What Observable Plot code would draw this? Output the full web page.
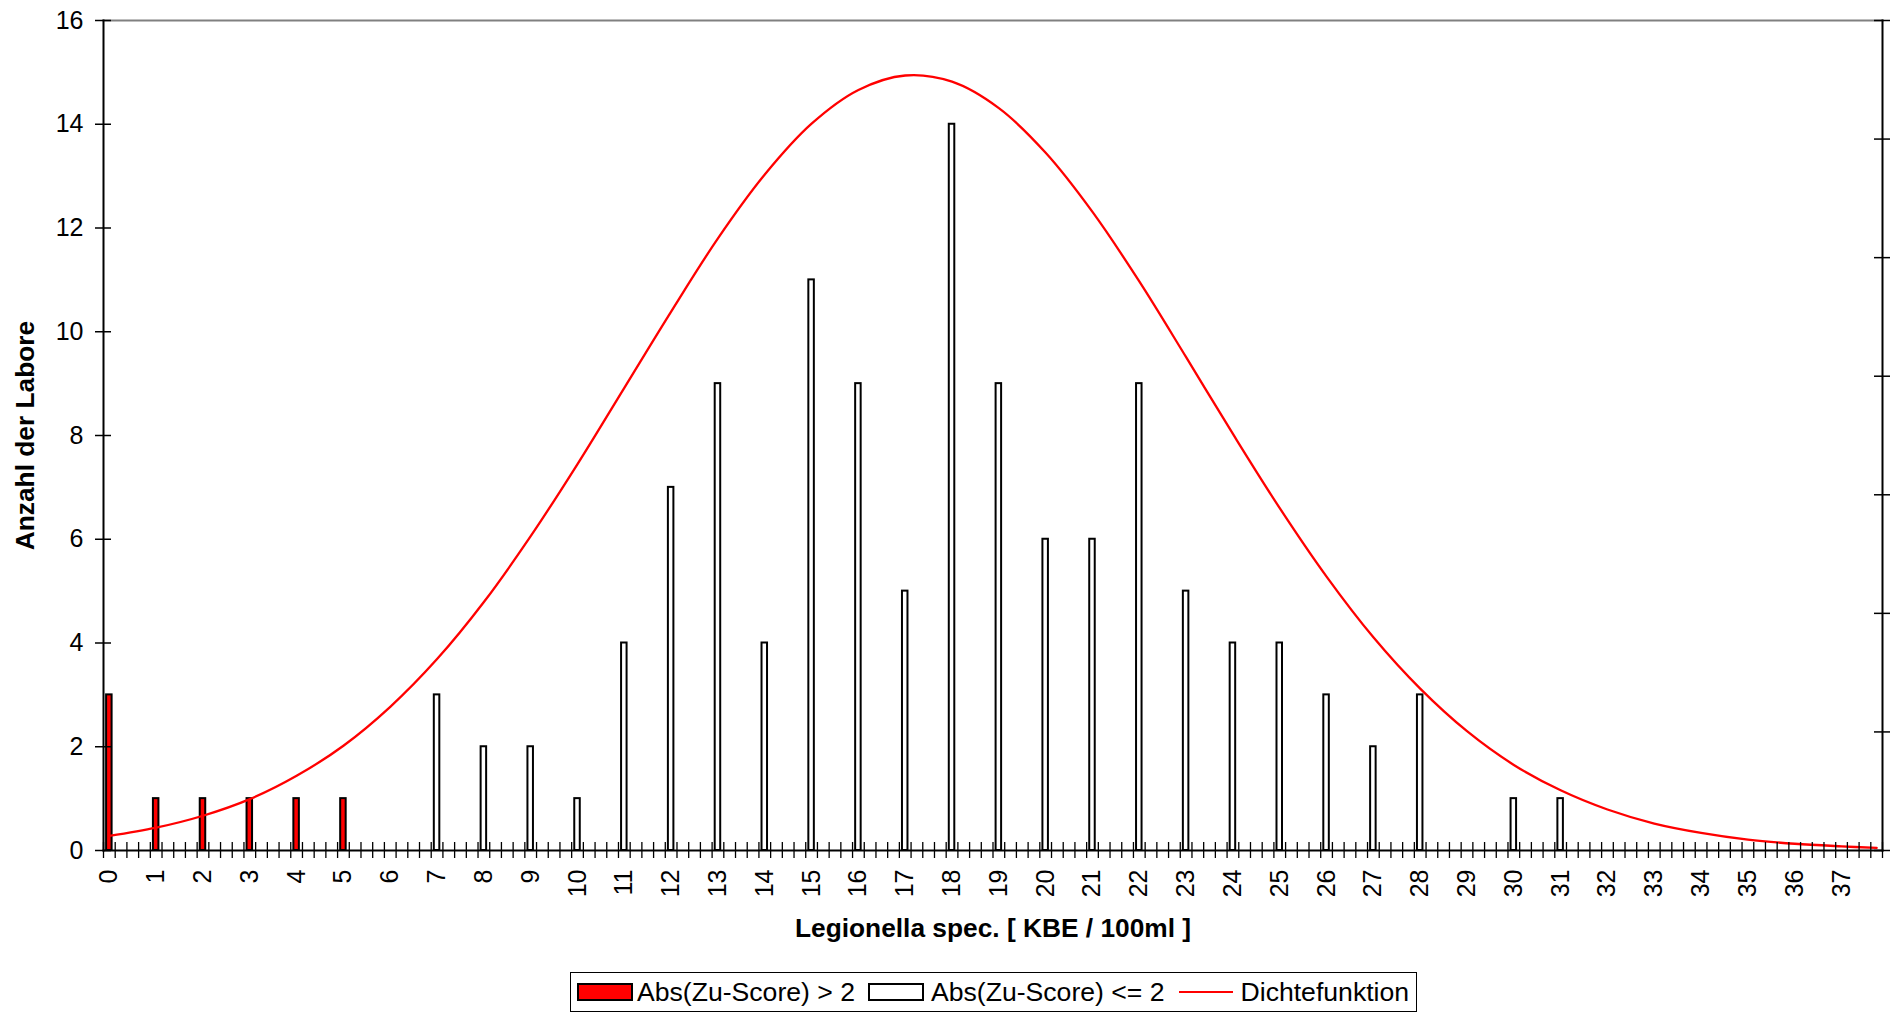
<!DOCTYPE html>
<html>
<head>
<meta charset="utf-8">
<script src="https://cdn.jsdelivr.net/npm/d3@7"></script>
<script src="https://cdn.jsdelivr.net/npm/@observablehq/plot@0.6"></script>
<style>
  html, body { margin: 0; padding: 0; background: #fff; }
  #wrap { position: relative; width: 1894px; height: 1013px; font-family: "Liberation Sans", Arial, sans-serif; }
  #legend {
    position: absolute; left: 570px; top: 972px; width: 845px; height: 38px;
    border: 1px solid #000; box-sizing: content-box;
    display: flex; align-items: center; font-size: 26.6px; color: #000; white-space: nowrap;
  }
  .sw { display: inline-block; width: 52px; height: 14px; border: 2px solid #000; }
  .ln { display: inline-block; width: 54px; height: 0; border-top: 2px solid #ff0000; }
</style>
</head>
<body>
<div id="wrap">
  <div id="chart"></div>
  <div id="legend"></div>
</div>
<script>
// ---- data ----
const redX = [0, 1, 2, 3, 4, 5];
const redN = [3, 1, 1, 1, 1, 1];
const whiteX = [7, 8, 9, 10, 11, 12, 13, 14, 15, 16, 17, 18, 19, 20, 21, 22, 23, 24, 25, 26, 27, 28, 30, 31];
const whiteN = [3, 2, 2, 1, 4, 7, 9, 4, 11, 9, 5, 14, 9, 6, 6, 9, 5, 4, 4, 3, 2, 3, 1, 1];
const curveX = [0, 1, 2, 3, 4, 5, 6, 7, 8, 9, 10, 11, 12, 13, 14, 15, 16, 17, 18, 19,
                20, 21, 22, 23, 24, 25, 26, 27, 28, 29, 30, 31, 32, 33, 34, 35, 36, 37, 37.75];
const curveY = [0.28, 0.44, 0.67, 0.99, 1.44, 2.02, 2.77, 3.69, 4.79, 6.06, 7.45, 8.92, 10.39, 11.8, 13.03, 14.01, 14.66, 14.94, 14.82, 14.31,
                13.45, 12.31, 10.97, 9.51, 8.03, 6.6, 5.28, 4.11, 3.12, 2.3, 1.65, 1.16, 0.79, 0.52, 0.34, 0.21, 0.13, 0.08, 0.05];
const categories = d3.range(0, 38, 0.25);           // category axis, 4 categories per unit
const xTickLabels = d3.range(0, 38);                 // 0 … 37
const yTicks = [0, 2, 4, 6, 8, 10, 12, 14, 16];
const secondaryTicks = [0, 0.02, 0.04, 0.06, 0.08, 0.1, 0.12, 0.14];
const secondaryMax = 0.14;
const yMax = 16;
const xTitle = "Legionella spec. [ KBE / 100ml ]";
const yTitle = "Anzahl der Labore";
const legendLabels = ["Abs(Zu-Score) > 2", "Abs(Zu-Score) <= 2", "Dichtefunktion"];

const redData = redX.map((x, i) => ({x, n: redN[i]}));
const whiteData = whiteX.map((x, i) => ({x, n: whiteN[i]}));
const curveData = curveX.map((x, i) => ({x, y: curveY[i]}));

// ---- layout ----
const W = 1894, H = 972, mL = 103, mR = 12, mT = 20, mB = 122;
const plotW = W - mL - mR, plotH = H - mT - mB;
const step = plotW / categories.length;

const chart = Plot.plot({
  width: W, height: H,
  marginLeft: mL, marginRight: mR, marginTop: mT, marginBottom: mB,
  x: {type: "band", domain: categories, padding: 0},
  y: {domain: [0, yMax]},
  style: {fontFamily: "'Liberation Sans', Arial, sans-serif", fontSize: "25px", background: "#fff", color: "#000", overflow: "visible"},
  marks: [
    Plot.barY(redData, {x: "x", y: "n", fill: "#ff0000", stroke: "#000", strokeWidth: 2, insetLeft: 3.1, insetRight: 3.1}),
    Plot.barY(whiteData, {x: "x", y: "n", fill: "#fff", stroke: "#000", strokeWidth: 2, insetLeft: 3.1, insetRight: 3.1}),
    Plot.line(curveData, {x: "x", y: "y", stroke: "#ff0000", strokeWidth: 2.3, curve: "catmull-rom"}),
    Plot.frame({anchor: "top", stroke: "#808080", strokeWidth: 2}),
    Plot.frame({anchor: "left", stroke: "#000", strokeWidth: 2}),
    Plot.frame({anchor: "bottom", stroke: "#000", strokeWidth: 2}),
    Plot.frame({anchor: "right", stroke: "#000", strokeWidth: 2}),
    Plot.ruleY(yTicks, {y: d => d, insetLeft: -8, insetRight: plotW - 8, stroke: "#000", strokeWidth: 1.5}),
    Plot.ruleY(secondaryTicks, {y: d => d * yMax / secondaryMax, insetLeft: plotW - 8, insetRight: -8, stroke: "#000", strokeWidth: 1.5}),
    Plot.ruleX(categories, {x: d => d, dx: step / 2, insetTop: plotH - 8, insetBottom: -8, stroke: "#000", strokeWidth: 1.3}),
    Plot.ruleX([categories[0]], {x: d => d, dx: -step / 2, insetTop: plotH - 8, insetBottom: -8, stroke: "#000", strokeWidth: 1.3}),
    Plot.axisX({ticks: xTickLabels, tickSize: 0, tickPadding: 19, tickRotate: -90, label: null, fontSize: 25}),
    Plot.axisY({ticks: yTicks, tickSize: 0, tickPadding: 20, label: null, fontSize: 25}),
    Plot.text([xTitle], {text: d => d, frameAnchor: "bottom", dy: 78, lineAnchor: "middle", textAnchor: "middle", fontWeight: "bold", fontSize: 26.3}),
    Plot.text([yTitle], {text: d => d, frameAnchor: "left", rotate: -90, dx: -78, lineAnchor: "middle", textAnchor: "middle", fontWeight: "bold", fontSize: 26.3})
  ]
});
document.getElementById("chart").appendChild(chart);

// ---- legend (HTML, below the SVG) ----
const legend = d3.select("#legend");
const item = (kind, label, swMargin, textMargin) => {
  const sw = legend.append("span").attr("class", kind === "line" ? "ln" : "sw").style("margin-left", swMargin + "px");
  if (kind === "red") sw.style("background", "#ff0000");
  if (kind === "white") sw.style("background", "#fff");
  legend.append("span").text(label).style("margin-left", textMargin + "px");
};
item("red", legendLabels[0], 6, 4);
item("white", legendLabels[1], 13, 7);
item("line", legendLabels[2], 14, 8);
</script>
</body>
</html>
